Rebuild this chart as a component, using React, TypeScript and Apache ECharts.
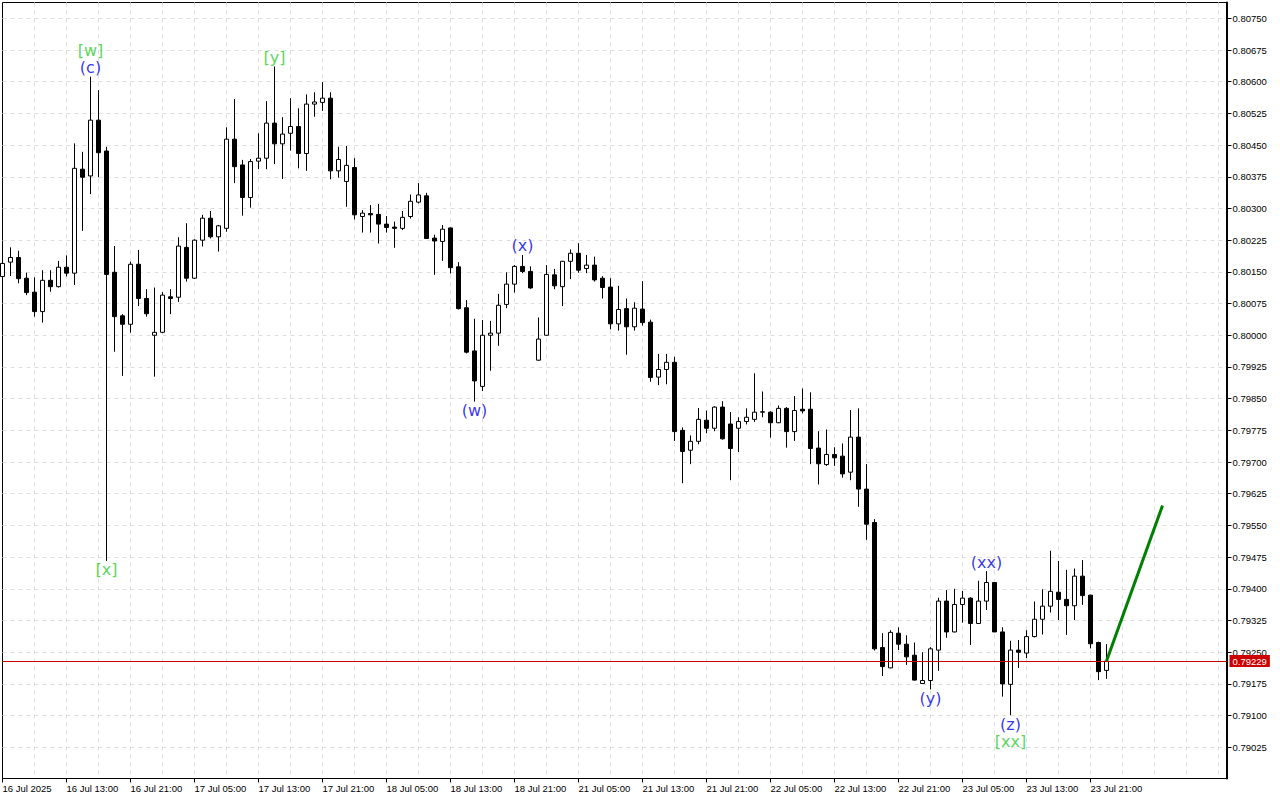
import React, { useEffect, useRef } from "react";
import * as echarts from "echarts";

// bar times: [day, first hour, last hour]
const daySegments: [string, number, number][] = [
  ["16 Jul", 5, 23],
  ["17 Jul", 0, 23],
  ["18 Jul", 0, 23],
  ["21 Jul", 0, 23],
  ["22 Jul", 0, 23],
  ["23 Jul", 0, 23],
  ["24 Jul", 0, 14],
];
const firstLabel = "16 Jul 2025";
const lastLabelIndex = 138;

const opens = [
  0.80139, 0.80173, 0.80184, 0.80135, 0.80102, 0.80056, 0.8013, 0.80115, 0.80161, 0.80147,
  0.80393, 0.80377, 0.80509, 0.80436, 0.80149, 0.80046, 0.80026, 0.80168, 0.80087, 0.8,
  0.80007, 0.80091, 0.8009, 0.80208, 0.80135, 0.80225, 0.80277, 0.80233, 0.80253, 0.80464,
  0.80403, 0.80326, 0.80412, 0.80419, 0.80502, 0.80453, 0.80478, 0.80494, 0.8043, 0.80547,
  0.80551, 0.80561, 0.80389, 0.80364, 0.80397, 0.80281, 0.80288, 0.80286, 0.80263, 0.80256,
  0.80253, 0.80281, 0.80315, 0.8033, 0.8023, 0.80222, 0.80254, 0.80162, 0.80065, 0.79963,
  0.79879, 0.8, 0.80005, 0.80073, 0.80121, 0.80163, 0.80151, 0.79941, 0.8, 0.80143,
  0.80115, 0.80175, 0.80194, 0.80158, 0.80166, 0.80135, 0.80114, 0.80027, 0.80063, 0.8002,
  0.80062, 0.80031, 0.79901, 0.79919, 0.79936, 0.79775, 0.79728, 0.79749, 0.79799, 0.7978,
  0.7983, 0.7979, 0.7978, 0.79796, 0.79801, 0.79818, 0.79818, 0.79793, 0.79827, 0.79772,
  0.79825, 0.79825, 0.79733, 0.79694, 0.79718, 0.79714, 0.79676, 0.79759, 0.79636, 0.79557,
  0.79261, 0.79213, 0.79295, 0.79269, 0.79243, 0.79176, 0.79183, 0.79255, 0.79371, 0.79298,
  0.79363, 0.79378, 0.79318, 0.79371, 0.79415, 0.79298, 0.79174, 0.79255, 0.79248, 0.79287,
  0.79328, 0.79359, 0.79392, 0.79375, 0.7936, 0.7943, 0.79385, 0.79273, 0.79207,
];
const closes = [
  0.8017, 0.80184, 0.80134, 0.80101, 0.80056, 0.8013, 0.80115, 0.80161, 0.80147, 0.80395,
  0.80374, 0.80509, 0.80432, 0.80144, 0.80044, 0.80026, 0.80168, 0.80087, 0.80051, 0.80007,
  0.80095, 0.80087, 0.80211, 0.80135, 0.80225, 0.80277, 0.80233, 0.80259, 0.80464, 0.80399,
  0.80326, 0.80411, 0.80419, 0.80502, 0.80453, 0.80476, 0.80494, 0.8043, 0.80547, 0.80552,
  0.80561, 0.80389, 0.80416, 0.80402, 0.80285, 0.80289, 0.80285, 0.80263, 0.80255, 0.80253,
  0.80279, 0.80317, 0.80332, 0.80229, 0.80223, 0.80251, 0.8016, 0.80063, 0.7996, 0.79892,
  0.8, 0.80005, 0.80071, 0.80121, 0.80163, 0.80151, 0.80112, 0.79991, 0.80144, 0.80117,
  0.80175, 0.80194, 0.80154, 0.80166, 0.80131, 0.80113, 0.80027, 0.80061, 0.8002, 0.80064,
  0.8003, 0.799, 0.79919, 0.79936, 0.79772, 0.79725, 0.79749, 0.79801, 0.7978, 0.7983,
  0.79755, 0.79732, 0.79796, 0.79806, 0.79818, 0.79819, 0.79793, 0.79827, 0.79772, 0.79822,
  0.79821, 0.79732, 0.79696, 0.79718, 0.7971, 0.79672, 0.79759, 0.79636, 0.79553, 0.79258,
  0.79216, 0.79297, 0.79269, 0.79239, 0.79184, 0.79183, 0.79258, 0.79371, 0.79298, 0.79363,
  0.79378, 0.79318, 0.79371, 0.79415, 0.79298, 0.79175, 0.79255, 0.7925, 0.79287, 0.79328,
  0.79359, 0.79394, 0.79375, 0.7936, 0.7943, 0.79384, 0.7927, 0.79204, 0.79229,
];
const lows = [
  0.80131, 0.8014, 0.80123, 0.80095, 0.80044, 0.8003, 0.80103, 0.80113, 0.80139, 0.80119,
  0.80247, 0.80334, 0.80374, 0.79466, 0.79961, 0.79904, 0.80006, 0.80069, 0.80044, 0.79902,
  0.80005, 0.8005, 0.80079, 0.80127, 0.80133, 0.8021, 0.80229, 0.80198, 0.80245, 0.8036,
  0.80283, 0.80302, 0.80393, 0.80393, 0.80405, 0.8037, 0.80437, 0.80395, 0.80389, 0.80517,
  0.80531, 0.80369, 0.80373, 0.80304, 0.80274, 0.80243, 0.80243, 0.80217, 0.80243, 0.80207,
  0.80249, 0.80276, 0.80312, 0.80228, 0.80143, 0.80176, 0.80146, 0.80061, 0.79957, 0.79843,
  0.79868, 0.79916, 0.79975, 0.80064, 0.80101, 0.80147, 0.8011, 0.7994, 0.79999, 0.80109,
  0.80069, 0.80133, 0.80148, 0.80147, 0.80127, 0.80087, 0.80014, 0.80011, 0.79954, 0.80011,
  0.80023, 0.7989, 0.79882, 0.79884, 0.7975, 0.7965, 0.79695, 0.79742, 0.79768, 0.79773,
  0.79753, 0.79657, 0.79724, 0.79789, 0.79795, 0.79806, 0.79758, 0.79792, 0.79734, 0.7975,
  0.79815, 0.79695, 0.79647, 0.79691, 0.79691, 0.79663, 0.79657, 0.79594, 0.79516, 0.79254,
  0.79194, 0.79212, 0.79255, 0.7922, 0.79183, 0.79176, 0.79162, 0.79206, 0.79284, 0.79297,
  0.7932, 0.79267, 0.79317, 0.7935, 0.79298, 0.79145, 0.79101, 0.79213, 0.79236, 0.79285,
  0.79292, 0.79344, 0.79326, 0.79291, 0.79326, 0.79362, 0.79259, 0.79184, 0.79187,
];
const highs = [
  0.80199, 0.80208, 0.802, 0.80148, 0.80137, 0.80154, 0.80154, 0.80176, 0.80189, 0.80454,
  0.80434, 0.80612, 0.8058, 0.80446, 0.80211, 0.8005, 0.80174, 0.80202, 0.80109, 0.80113,
  0.80102, 0.80109, 0.80232, 0.80265, 0.80227, 0.80285, 0.80294, 0.80261, 0.80492, 0.80559,
  0.80415, 0.80417, 0.80478, 0.80554, 0.80636, 0.80516, 0.80561, 0.80537, 0.8057, 0.80575,
  0.80599, 0.80575, 0.80446, 0.80448, 0.80419, 0.80296, 0.80308, 0.80311, 0.80282, 0.80269,
  0.80294, 0.80333, 0.8036, 0.80337, 0.80238, 0.80261, 0.80255, 0.80173, 0.80083, 0.80039,
  0.80036, 0.80034, 0.80098, 0.80149, 0.80166, 0.8019, 0.80163, 0.80042, 0.80166, 0.80157,
  0.80176, 0.80203, 0.80218, 0.8019, 0.80186, 0.8014, 0.80135, 0.80117, 0.80087, 0.80078,
  0.80128, 0.80037, 0.79956, 0.79956, 0.79949, 0.79782, 0.79763, 0.79828, 0.79822, 0.79832,
  0.79844, 0.79818, 0.79806, 0.79827, 0.7991, 0.79867, 0.7982, 0.79834, 0.7983, 0.79856,
  0.79874, 0.79865, 0.79773, 0.79777, 0.79735, 0.79744, 0.79823, 0.79827, 0.79695, 0.79565,
  0.79295, 0.79302, 0.79309, 0.7929, 0.79273, 0.7925, 0.79262, 0.79379, 0.79397, 0.794,
  0.79395, 0.7938, 0.79419, 0.79442, 0.79416, 0.79309, 0.79277, 0.79279, 0.79302, 0.7937,
  0.79399, 0.7949, 0.79466, 0.79445, 0.79448, 0.79468, 0.79386, 0.79275, 0.79269,
];

const yTicks = [
  0.79025, 0.791, 0.79175, 0.7925, 0.79325, 0.794, 0.79475, 0.7955, 0.79625, 0.797,
  0.79775, 0.7985, 0.79925, 0.8, 0.80075, 0.8015, 0.80225, 0.803, 0.80375, 0.8045,
  0.80525, 0.806, 0.80675, 0.8075,
];
const yMin = 0.789512;
const yMax = 0.807874;

const lastPrice = 0.79229;
const projIdx = [138, 145];
const projPrice = [0.79229, 0.79597];

const waveIdx = [11, 11, 34, 13, 59, 65, 116, 123, 126, 126];
const waveText = ["(c)", "[w]", "[y]", "[x]", "(w)", "(x)", "(y)", "(xx)", "(z)", "[xx]"];
const waveSide = ["high", "high", "high", "low", "low", "high", "low", "high", "low", "low"];
const waveLevel = [0, 1, 0, 0, 0, 0, 0, 0, 0, 1];

function buildCategories(): string[] {
  const out: string[] = [];
  for (const [day, h0, h1] of daySegments) {
    for (let h = h0; h <= h1; h++) {
      out.push(`${day} ${String(h).padStart(2, "0")}:00`);
    }
  }
  return out;
}

export default function App() {
  const ref = useRef<HTMLDivElement>(null);
  useEffect(() => {
    if (!ref.current) return;
    const chart = echarts.init(ref.current, null, { renderer: "svg" });
    const categories = buildCategories();
    const candles = opens.map((o, i) => [o, closes[i], lows[i], highs[i]]);
    const waveData = waveIdx.map((idx, k) => {
      const isHigh = waveSide[k] === "high";
      const green = waveText[k].startsWith("[");
      return {
        value: [idx, isHigh ? highs[idx] : lows[idx]],
        label: {
          show: true,
          formatter: waveText[k],
          position: isHigh ? "top" : "bottom",
          distance: waveLevel[k] === 0 ? 1 : 18,
          color: green ? "#2ecc2e" : "#0000ee",
          fontSize: 16,
          fontFamily: "DejaVu Sans",
        },
      };
    });
    const axisFont = "Liberation Sans";
    chart.setOption({
      animation: false,
      backgroundColor: "#ffffff",
      textStyle: { fontFamily: axisFont },
      grid: {
        left: 2.5,
        top: 2.5,
        width: 1224,
        height: 776,
        show: true,
        borderColor: "#000",
        borderWidth: 1,
        backgroundColor: "#fff",
        outerBoundsMode: "none",
        containLabel: false,
      },
      xAxis: {
        type: "category",
        data: categories,
        boundaryGap: false,
        axisLine: { show: true, lineStyle: { color: "#000", width: 1 } },
        axisTick: {
          show: true,
          length: 4,
          interval: (i: number) => i % 8 === 0 && i <= lastLabelIndex,
          lineStyle: { color: "#000" },
        },
        axisLabel: {
          show: true,
          interval: (i: number) => i % 8 === 0 && i <= lastLabelIndex,
          formatter: (v: string, i: number) => (i === 0 ? firstLabel : v),
          align: "left",
          margin: 5,
          fontSize: 9.5,
          fontFamily: axisFont,
          color: "#000",
        },
        splitLine: {
          show: true,
          interval: (i: number) => i % 4 === 0 && i > 0,
          lineStyle: { color: "#dedede", type: [4, 4], width: 1 },
        },
      },
      yAxis: {
        type: "value",
        position: "right",
        min: yMin,
        max: yMax,
        axisLine: { show: true, lineStyle: { color: "#000", width: 2 } },
        axisTick: {
          show: true,
          length: 5,
          customValues: yTicks,
          lineStyle: { color: "#000" },
        },
        axisLabel: {
          show: true,
          customValues: yTicks,
          formatter: (v: number) => v.toFixed(5),
          margin: 6,
          fontSize: 9.5,
          fontFamily: axisFont,
          color: "#000",
        },
        splitLine: {
          show: true,
          lineStyle: { color: "#dedede", type: [4, 4], width: 1 },
        },
      },
      series: [
        {
          type: "candlestick",
          data: candles,
          barWidth: 4,
          clip: true,
          itemStyle: {
            color: "#ffffff",
            color0: "#000000",
            borderColor: "#000000",
            borderColor0: "#000000",
            borderColorDoji: "#000000",
            borderWidth: 1,
          },
        },
        {
          type: "line",
          data: projIdx.map((x, k) => [x, projPrice[k]]),
          symbol: "none",
          lineStyle: { color: "#008000", width: 3 },
          z: 5,
          markLine: {
            silent: true,
            precision: 5,
            symbol: ["none", "none"],
            lineStyle: { color: "#c80000", width: 1, type: "solid" },
            label: {
              show: true,
              position: "end",
              distance: 3,
              formatter: () => lastPrice.toFixed(5),
              color: "#ffffff",
              backgroundColor: "#cc0000",
              padding: [1, 3, 1, 3],
              fontSize: 9.5,
              fontFamily: axisFont,
            },
            data: [{ yAxis: lastPrice }],
          },
        },
        {
          type: "scatter",
          data: waveData,
          symbolSize: 0,
          z: 6,
        },
      ],
    });
    return () => chart.dispose();
  }, []);
  return (
    <div
      ref={ref}
      style={{ position: "fixed", left: 0, top: 0, width: 1280, height: 800, background: "#fff" }}
    />
  );
}
